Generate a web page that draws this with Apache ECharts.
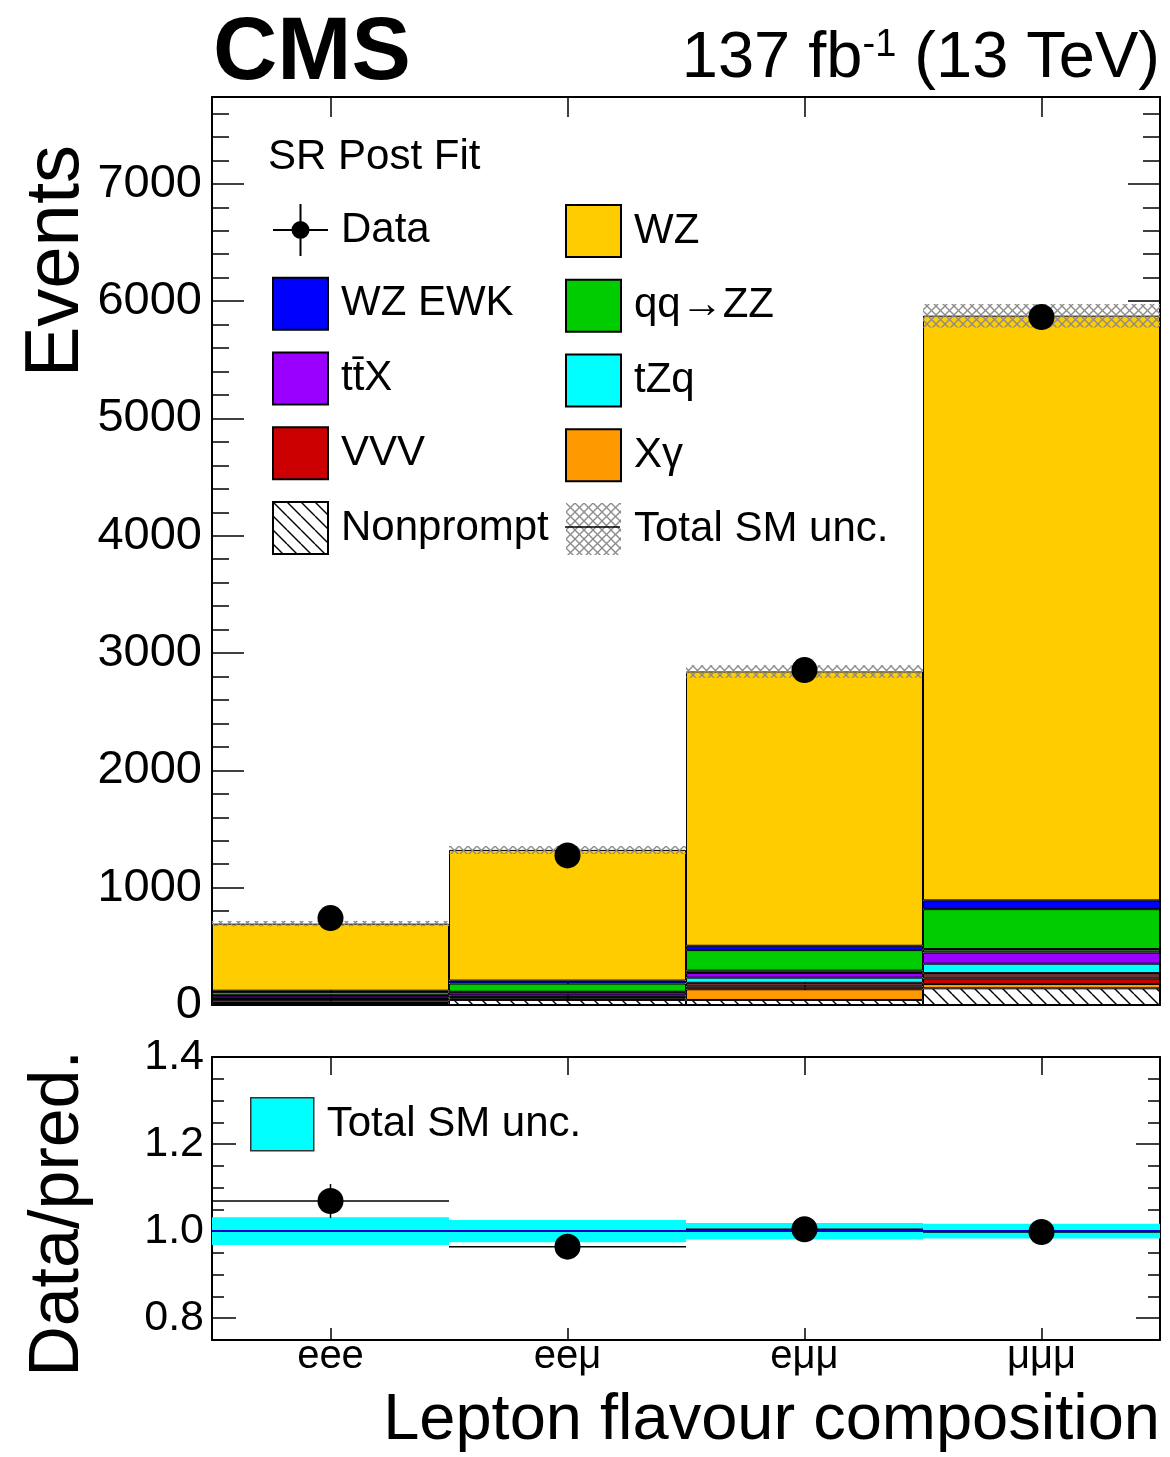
<!DOCTYPE html>
<html lang="en" style="height: 100%">
<head>
  <meta charset="utf-8">
</head>
<body style="height: 100%; margin: 0; background: #fff">
  <div id="container" style="width: 1170px; height: 1457px"></div>

  <script type="text/javascript" src="https://cdn.jsdelivr.net/npm/echarts@6/dist/echarts.min.js"></script>

  <script type="text/javascript">
    // bins of the histogram
    var bins = ['eee', 'eeμ', 'eμμ', 'μμμ'];

    // post-fit predictions per bin, stacked bottom -> top
    var nonprompt  = [17, 43, 43, 142];
    var xGamma     = [20, 12, 91, 37];
    var vvv        = [10, 10, 25, 48];
    var otherBrown = [3, 5, 30, 45];   // thin unlabelled strip above VVV
    var tZq        = [11, 12, 44, 80];
    var ttX        = [19, 26, 40, 95];
    var otherGreen = [3, 5, 20, 30];   // thin unlabelled strip below qq->ZZ
    var qqZZ       = [27, 70, 175, 340];
    var wzEwk      = [12, 25, 37, 75];
    var wz         = [571, 1114, 2338, 4984];

    // observed data and uncertainties
    var dataObs  = [741, 1275, 2855, 5865];
    var dataErr  = [27, 36, 53, 77];
    var totalUnc = [22, 34, 54, 100];

    var ratioTicks = [0.8, 1.0, 1.2, 1.4];

    var FONT = "'Liberation Sans', Arial, sans-serif";

    function hatchPattern() {
      var s = 14;
      var c = document.createElement('canvas');
      c.width = s; c.height = s;
      var g = c.getContext('2d');
      g.fillStyle = '#fff';
      g.fillRect(0, 0, s, s);
      g.strokeStyle = '#000';
      g.lineWidth = 1.4;
      [-s, 0, s].forEach(function (k) {
        g.beginPath(); g.moveTo(0, k); g.lineTo(s, s + k); g.stroke();
      });
      return { image: c, repeat: 'repeat' };
    }

    function crossPattern() {
      var s = 9;
      var c = document.createElement('canvas');
      c.width = s; c.height = s;
      var g = c.getContext('2d');
      g.strokeStyle = '#8a8a8a';
      g.lineWidth = 1.3;
      [-s, 0, s].forEach(function (k) {
        g.beginPath(); g.moveTo(0, k); g.lineTo(s, s + k); g.stroke();
        g.beginPath(); g.moveTo(0, s + k); g.lineTo(s, k); g.stroke();
      });
      return { image: c, repeat: 'repeat' };
    }

    var TTX = 'tt\u0304X';

    var stackDefs = [
      ['Nonprompt', nonprompt, hatchPattern()],
      ['Xγ', xGamma, '#ff9900'],
      ['VVV', vvv, '#cc0000'],
      ['other-a', otherBrown, '#6b3434'],
      ['tZq', tZq, '#00ffff'],
      [TTX, ttX, '#9900ff'],
      ['other-b', otherGreen, '#2f6b2f'],
      ['qq→ZZ', qqZZ, '#00cc00'],
      ['WZ EWK', wzEwk, '#0000ff'],
      ['WZ', wz, '#ffcc00']
    ];

    var total = bins.map(function (b, i) {
      return stackDefs.reduce(function (s, d) { return s + d[1][i]; }, 0);
    });
    var ratio = dataObs.map(function (v, i) { return v / total[i]; });
    var ratioErr = dataErr.map(function (e, i) { return e / total[i]; });
    var relUnc = totalUnc.map(function (u, i) { return u / total[i]; });

    var series = [];
    stackDefs.forEach(function (d) {
      series.push({
        name: d[0], type: 'bar', stack: 'mc',
        xAxisIndex: 0, yAxisIndex: 0,
        barCategoryGap: '0%', barGap: '-100%',
        data: d[1],
        itemStyle: { color: d[2], borderColor: '#000', borderWidth: 1, opacity: 1 },
        emphasis: { disabled: true }
      });
    });
    // total uncertainty band on the stack
    series.push({
      name: 'uncBase', type: 'bar', stack: 'unc',
      xAxisIndex: 0, yAxisIndex: 0,
      barCategoryGap: '0%', barGap: '-100%',
      data: total.map(function (t, i) { return t - totalUnc[i]; }),
      itemStyle: { color: 'transparent' }, silent: true,
      emphasis: { disabled: true }
    });
    series.push({
      name: 'Total SM unc.', type: 'bar', stack: 'unc',
      xAxisIndex: 0, yAxisIndex: 0,
      barCategoryGap: '0%', barGap: '-100%',
      data: totalUnc.map(function (u) { return 2 * u; }),
      itemStyle: { color: crossPattern() },
      emphasis: { disabled: true }
    });
    // data error bars + points
    series.push({
      name: 'dataErr', type: 'custom', xAxisIndex: 0, yAxisIndex: 0,
      data: dataObs.map(function (v, i) { return [i, v, v - dataErr[i], v + dataErr[i]]; }),
      encode: { x: 0, y: [1, 2, 3] },
      renderItem: function (params, api) {
        var lo = api.coord([api.value(0), api.value(2)]);
        var hi = api.coord([api.value(0), api.value(3)]);
        return { type: 'line', shape: { x1: lo[0], y1: lo[1], x2: hi[0], y2: hi[1] },
                 style: { stroke: '#000', lineWidth: 1.5 } };
      },
      z: 4
    });
    series.push({
      name: 'Data', type: 'scatter', xAxisIndex: 0, yAxisIndex: 0,
      data: dataObs, symbolSize: 26,
      itemStyle: { color: '#000', opacity: 1 }, z: 5
    });

    // ratio panel
    series.push({
      name: 'ratioBase', type: 'bar', stack: 'r',
      xAxisIndex: 2, yAxisIndex: 2,
      barCategoryGap: '0%', barGap: '-100%',
      data: relUnc.map(function (u) { return 1 - u; }),
      itemStyle: { color: 'transparent' }, silent: true
    });
    series.push({
      name: 'ratioUnc', type: 'bar', stack: 'r',
      xAxisIndex: 2, yAxisIndex: 2,
      barCategoryGap: '0%', barGap: '-100%',
      data: relUnc.map(function (u) { return 2 * u; }),
      itemStyle: { color: '#00ffff', opacity: 1 },
      markLine: {
        silent: true, symbol: 'none', label: { show: false },
        lineStyle: { color: '#0000cc', width: 2, type: 'solid', opacity: 1 },
        data: [{ yAxis: 1 }]
      }
    });
    series.push({
      name: 'ratioErr', type: 'custom', xAxisIndex: 2, yAxisIndex: 2,
      data: ratio.map(function (r, i) { return [i, r, r - ratioErr[i], r + ratioErr[i]]; }),
      encode: { x: 0, y: [1, 2, 3] },
      renderItem: function (params, api) {
        var c = api.coord([api.value(0), api.value(1)]);
        var lo = api.coord([api.value(0), api.value(2)]);
        var hi = api.coord([api.value(0), api.value(3)]);
        var w = api.size([1, 0])[0];
        return { type: 'group', children: [
          { type: 'line', shape: { x1: c[0] - w / 2, y1: c[1], x2: c[0] + w / 2, y2: c[1] },
            style: { stroke: '#000', lineWidth: 1.5 } },
          { type: 'line', shape: { x1: c[0], y1: lo[1], x2: c[0], y2: hi[1] },
            style: { stroke: '#000', lineWidth: 1.5 } }
        ] };
      },
      z: 4
    });
    series.push({
      name: 'ratioData', type: 'scatter', xAxisIndex: 2, yAxisIndex: 2,
      data: ratio, symbolSize: 26, itemStyle: { color: '#000', opacity: 1 }, z: 5
    });

    var axisLine = { show: true, onZero: false, lineStyle: { color: '#000', width: 2 } };
    var tickStyle = { color: '#000', width: 1.5 };

    function catAxis(grid, pos, len, labels) {
      return {
        type: 'category', gridIndex: grid, position: pos, data: bins,
        axisLine: axisLine,
        axisTick: { show: true, inside: true, alignWithLabel: true, length: len, lineStyle: tickStyle },
        axisLabel: labels ? { show: true, fontSize: 40, fontFamily: FONT, color: '#000', margin: -3 } : { show: false },
        splitLine: { show: false }
      };
    }

    var mainMax = 7740;
    function mainY(pos, major, labels) {
      return {
        type: 'value', gridIndex: 0, position: pos, min: 0, max: mainMax,
        interval: major ? 1000 : 200,
        axisLine: major ? axisLine : { show: false },
        axisTick: { show: true, inside: true, length: major ? 32 : 17, lineStyle: tickStyle },
        axisLabel: labels ? { show: true, fontSize: 47, fontFamily: FONT, color: '#000', margin: 10,
                              showMaxLabel: false, formatter: function (v) { return String(v); } } : { show: false },
        splitLine: { show: false }
      };
    }

    function ratioY(pos, major, labels) {
      var ax = {
        type: 'value', gridIndex: 1, position: pos, min: 0.75, max: 1.4,
        axisLine: major ? axisLine : { show: false },
        splitLine: { show: false }
      };
      if (major) {
        ax.axisTick = { show: true, inside: true, length: 24, lineStyle: tickStyle, customValues: ratioTicks };
        ax.axisLabel = labels ? { show: true, fontSize: 43, fontFamily: FONT, color: '#000', margin: 8,
                                  customValues: ratioTicks, formatter: function (v) { return v.toFixed(1); } }
                              : { show: false };
      } else {
        ax.interval = 0.05;
        ax.axisTick = { show: true, inside: true, length: 12, lineStyle: tickStyle };
        ax.axisLabel = { show: false };
      }
      return ax;
    }

    var legendText = { fontSize: 42, fontFamily: FONT, color: '#000', padding: [0, 0, 0, 8] };
    var dataIcon = 'path://M0,25h55v2h-55z M26.5,0h2v52h-2z M18.5,26a9,9 0 1,1 18,0a9,9 0 1,1 -18,0z';

    var option = {
      animation: false,
      backgroundColor: '#fff',
      grid: [
        { left: 212, top: 97, width: 948, height: 908 },
        { left: 212, top: 1057, width: 948, height: 283 }
      ],
      xAxis: [
        catAxis(0, 'bottom', 24, false),
        catAxis(0, 'top', 20, false),
        catAxis(1, 'bottom', 12, true),
        catAxis(1, 'top', 18, false)
      ],
      yAxis: [
        mainY('left', true, true),
        mainY('left', false, false),
        ratioY('left', true, true),
        ratioY('left', false, false),
        mainY('right', true, false),
        mainY('right', false, false),
        ratioY('right', true, false),
        ratioY('right', false, false)
      ],
      legend: [
        {
          orient: 'vertical', left: 272, top: 204, padding: 0,
          itemWidth: 55, itemHeight: 52, itemGap: 20.75,
          selectedMode: false, textStyle: legendText,
          data: [{ name: 'Data', icon: dataIcon }, { name: 'WZ EWK', icon: 'rect' },
                 { name: TTX, icon: 'rect' }, { name: 'VVV', icon: 'rect' },
                 { name: 'Nonprompt', icon: 'rect' }]
        },
        {
          orient: 'vertical', left: 565, top: 204, padding: 0,
          itemWidth: 55, itemHeight: 52, itemGap: 20.75,
          selectedMode: false, textStyle: legendText,
          data: [{ name: 'WZ', icon: 'rect' }, { name: 'qq→ZZ', icon: 'rect' },
                 { name: 'tZq', icon: 'rect' }, { name: 'Xγ', icon: 'rect' },
                 { name: 'Total SM unc.', icon: 'rect' }]
        },
        {
          orient: 'vertical', left: 250, top: 1097, padding: 0,
          itemWidth: 63, itemHeight: 53,
          selectedMode: false,
          textStyle: { fontSize: 42, fontFamily: FONT, color: '#000', padding: [8, 0, 0, 8] },
          formatter: function () { return 'Total SM unc.'; },
          data: [{ name: 'ratioUnc', icon: 'rect', itemStyle: { borderColor: '#333', borderWidth: 1.5 } }]
        }
      ],
      graphic: [
        { type: 'text', x: 213, y: 54, style: { text: 'CMS', font: 'bold 89px ' + FONT, fill: '#000',
            align: 'left', verticalAlign: 'middle', textAlign: 'left', textVerticalAlign: 'middle' } },
        { type: 'text', x: 1160, y: 59, style: { text: '137 fb{s|-1} (13 TeV)', font: '65px ' + FONT, fill: '#000',
            align: 'right', verticalAlign: 'middle', textAlign: 'right', textVerticalAlign: 'middle',
            rich: { s: { fontSize: 38, fontFamily: FONT, verticalAlign: 'top' } } } },
        { type: 'text', x: 268, y: 157, style: { text: 'SR Post Fit', font: '42px ' + FONT, fill: '#000',
            align: 'left', verticalAlign: 'middle', textAlign: 'left', textVerticalAlign: 'middle' } },
        { type: 'text', x: 57, y: 145, rotation: Math.PI / 2, style: { text: 'Events', font: '76px ' + FONT,
            fill: '#000', align: 'right', verticalAlign: 'middle', textAlign: 'right', textVerticalAlign: 'middle' } },
        { type: 'text', x: 59, y: 1050, rotation: Math.PI / 2, style: { text: 'Data/pred.', font: '70px ' + FONT,
            fill: '#000', align: 'right', verticalAlign: 'middle', textAlign: 'right', textVerticalAlign: 'middle' } },
        { type: 'text', x: 1160, y: 1421, style: { text: 'Lepton flavour composition', font: '65px ' + FONT,
            fill: '#000', align: 'right', verticalAlign: 'middle', textAlign: 'right', textVerticalAlign: 'middle' } },
        { type: 'line', shape: { x1: 565, y1: 527, x2: 620, y2: 527 }, style: { stroke: '#000', lineWidth: 1.5 }, z: 100 }
      ],
      series: series
    };

    var myChart = echarts.init(document.getElementById('container'), null, { renderer: 'canvas' });
    myChart.setOption(option);
  </script>
</body>
</html>
